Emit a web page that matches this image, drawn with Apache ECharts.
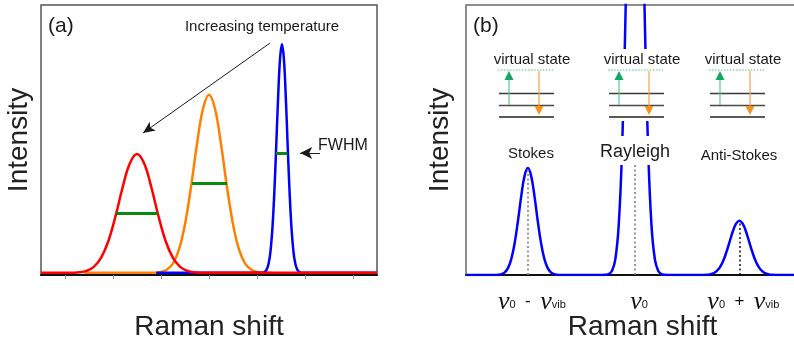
<!DOCTYPE html>
<html>
<head>
<meta charset="utf-8">
<script src="https://cdn.jsdelivr.net/npm/echarts@6/dist/echarts.min.js"></script>
<style>
  html, body { margin: 0; padding: 0; background: #fff; }
  #chart { width: 794px; height: 343px; }
</style>
</head>
<body>
<div id="chart"></div>
<script>
// ---------- Panel (a): one Raman band at three temperatures ----------
// [Raman shift (arb.), intensity (arb.)]
const redPeak = [[0,0],[0.6,0],[0.8,0.2],[0.95,0.75],[1.1,2.2],[1.25,5.5],[1.4,11.6],[1.55,20.8],[1.7,31.6],[1.85,40.5],[2.0,44],[2.15,40.5],[2.3,31.6],[2.45,20.8],[2.6,11.6],[2.75,5.5],[2.9,2.2],[3.05,0.75],[3.2,0.2],[3.4,0],[7,0]];
const orangePeak = [[0.9,0],[2.3,0],[2.5,0.36],[2.625,1.2],[2.75,3.5],[2.875,8.65],[3.0,18.0],[3.125,31.8],[3.25,47.7],[3.375,60.8],[3.5,66],[3.625,60.8],[3.75,47.7],[3.875,31.8],[4.0,18.0],[4.125,8.65],[4.25,3.5],[4.375,1.2],[4.5,0.36],[4.7,0],[4.8,0]];
const bluePeak = [[2.4,0],[4.6,0],[4.66,0.4],[4.7,1.2],[4.74,3.3],[4.78,7.8],[4.82,16.2],[4.86,29.4],[4.9,46.7],[4.94,65.0],[4.98,79.3],[5.02,84.7],[5.06,79.3],[5.1,65.0],[5.14,46.7],[5.18,29.4],[5.22,16.2],[5.26,7.8],[5.3,3.3],[5.34,1.2],[5.38,0.4],[5.44,0],[7,0]];
// full width at half maximum: [left, right, height]
const fwhmRed = [1.563, 2.431, 22.0];
const fwhmOrange = [3.146, 3.875, 33.1];
const fwhmBlue = [4.896, 5.131, 44.3];
const ticksA = [0.5, 1.5, 2.5, 3.5, 4.5, 5.5, 6.5];

// ---------- Panel (b): Stokes / Rayleigh / anti-Stokes ----------
const spectrumB = [[0,0],[8.8,0],[9.8,0.09],[10.8,0.32],[11.8,1.0],[12.8,2.65],[13.8,6.05],[14.8,11.9],[15.8,20.1],[16.8,29.3],[17.8,36.7],[18.8,39.6],[19.8,36.7],[20.8,29.3],[21.8,20.1],[22.8,11.9],[23.8,6.05],[24.8,2.65],[25.8,1.0],[26.8,0.32],[27.8,0.09],[28.8,0],
  [41.4,0],[42.4,0.06],[43.4,0.34],[44.4,1.58],[45.4,5.9],[46.4,18.1],[47.4,45.0],[48.4,91.5],[49.4,151.9],[50.4,206.0],[51.4,228],[52.4,206.0],[53.4,151.9],[54.4,91.5],[55.4,45.0],[56.4,18.1],[57.4,5.9],[58.4,1.58],[59.4,0.34],[60.4,0.06],[61.4,0],
  [71.1,0],[72.1,0.02],[73.1,0.08],[74.1,0.22],[75.1,0.57],[76.1,1.32],[77.1,2.72],[78.1,5.01],[79.1,8.26],[80.1,12.2],[81.1,16.1],[82.1,19.0],[83.1,20.1],[84.1,19.0],[85.1,16.1],[86.1,12.2],[87.1,8.26],[88.1,5.01],[89.1,2.72],[90.1,1.32],[91.1,0.57],[92.1,0.22],[93.1,0.08],[94.1,0.02],[95.1,0],[107.3,0]];
const peakCentersB = [18.8, 51.4, 83.1];
const guideTopsB = [39.6, 41, 20.1];
const peakNamesB = ['Stokes', 'Rayleigh', 'Anti-Stokes'];
const shiftLabelsB = ['{nu|ν}{sub|0}{op|  -  }{nu|ν}{sub|vib}', '{nu|ν}{sub|0}', '{nu|ν}{sub|0}{op|  +  }{nu|ν}{sub|vib}'];

const SANS = '"Liberation Sans", Arial, Helvetica, sans-serif';
const chart = echarts.init(document.getElementById('chart'), null, { renderer: 'canvas' });

function txt(text, x, y, size, align, extra) {
  return Object.assign({
    type: 'text', z: 120, x: x, y: y,
    style: { text: text, font: size + 'px ' + SANS, fill: '#1a1a1a', align: align || 'center', verticalAlign: 'middle' }
  }, extra || {});
}
function seg(x1, y1, x2, y2, color, width, dash) {
  return { type: 'line', z: 115, shape: { x1, y1, x2, y2 }, style: { stroke: color, lineWidth: width, lineDash: dash || null } };
}
function tri(points, color) {
  return { type: 'polygon', z: 116, shape: { points }, style: { fill: color } };
}
// energy-level sketch: virtual state, three vibrational levels, up/down transitions
function levelSketch(x0) {
  const els = [];
  els.push(txt('virtual state', x0 + 33, 60, 15));
  els.push(seg(x0 - 1, 70, x0 + 54, 70, '#8fd8ac', 1.5, [1.5, 1.5]));
  els.push(seg(x0, 93.5, x0 + 55, 93.5, '#3a3a3a', 1.5));
  els.push(seg(x0, 105.5, x0 + 55, 105.5, '#4a4a4a', 1.5));
  els.push(seg(x0, 117, x0 + 55, 117, '#222', 1.5));
  els.push(seg(x0 + 10, 105, x0 + 10, 79, '#55c98a', 1.2));
  els.push(tri([[x0 + 5.5, 80], [x0 + 14.5, 80], [x0 + 10, 71]], '#10a860'));
  els.push(seg(x0 + 40, 71, x0 + 40, 107, '#f6a04a', 1.2));
  els.push(tri([[x0 + 35.5, 106], [x0 + 44.5, 106], [x0 + 40, 115]], '#f5901a'));
  return els;
}

const graphics = [
  txt('(a)', 48, 26, 21, 'left'),
  txt('Increasing temperature', 262, 27, 15),
  txt('FWHM', 318, 146, 16, 'left'),
  txt('(b)', 473, 26, 21, 'left'),
  // white patch behind the central sketch hides the tall Rayleigh line
  { type: 'rect', z: 110, shape: { x: 603, y: 49, width: 68, height: 72 }, style: { fill: '#fff' } },
  { type: 'rect', z: 110, shape: { x: 598, y: 136, width: 76, height: 29 }, style: { fill: '#fff' } },
  txt(peakNamesB[0], 531, 154, 15),
  txt(peakNamesB[1], 635, 152, 18),
  txt(peakNamesB[2], 739, 156, 15)
].concat(levelSketch(499), levelSketch(609), levelSketch(710));

const guideLines = peakCentersB.map((c, i) => [
  { coord: [c, 0] }, { coord: [c, guideTopsB[i]], lineStyle: { color: i === 2 ? '#111' : '#777', width: 1.5, type: [2, 2.5] } }
]);

const arrowStyle = { color: '#1a1a1a', width: 1 };
const nameStyle = { fontSize: 28, fontFamily: SANS, color: '#222' };
const option = {
  animation: false,
  backgroundColor: '#fff',
  grid: [
    { left: 41, top: 5, width: 336, height: 270, show: true, borderColor: '#555', borderWidth: 1.5, outerBoundsMode: 'none', containLabel: false },
    { left: 466, top: 5, width: 353, height: 270, show: true, borderColor: '#6a6a6a', borderWidth: 1.5, outerBoundsMode: 'none', containLabel: false }
  ],
  xAxis: [
    { gridIndex: 0, type: 'value', min: 0, max: 7,
      axisLine: { show: true, onZero: false, lineStyle: { color: '#111', width: 2 } },
      axisTick: { show: true, customValues: ticksA, length: 4, lineStyle: { color: '#8a8a8a', width: 1 } },
      axisLabel: { show: false }, splitLine: { show: false },
      name: 'Raman shift', nameLocation: 'middle', nameGap: 38, nameMoveOverlap: false,
      nameTextStyle: nameStyle },
    { gridIndex: 1, type: 'value', min: 0, max: 107.3,
      axisLine: { show: true, onZero: false, lineStyle: { color: '#111', width: 2 } },
      axisTick: { show: false },
      axisLabel: { show: true, customValues: peakCentersB, margin: 14, padding: [0, 0, 0, 8],
        formatter: (v) => shiftLabelsB[peakCentersB.indexOf(v)] || '',
        rich: {
          nu: { fontFamily: '"Liberation Serif", "Times New Roman", serif', fontStyle: 'italic', fontSize: 26, color: '#111', verticalAlign: 'bottom' },
          sub: { fontFamily: SANS, fontSize: 11, color: '#111', verticalAlign: 'bottom', padding: [0, 0, 5, 0] },
          op: { fontFamily: SANS, fontSize: 17, color: '#111', verticalAlign: 'bottom', padding: [0, 0, 5, 0] }
        } },
      splitLine: { show: false },
      name: 'Raman shift', nameLocation: 'middle', nameGap: 38, nameMoveOverlap: false,
      nameTextStyle: nameStyle }
  ],
  yAxis: [
    { gridIndex: 0, type: 'value', min: -0.8, max: 99.2,
      axisLine: { show: false }, axisTick: { show: false }, axisLabel: { show: false }, splitLine: { show: false },
      name: 'Intensity', nameLocation: 'middle', nameGap: 8, nameMoveOverlap: false,
      nameTextStyle: nameStyle },
    { gridIndex: 1, type: 'value', min: 0, max: 100,
      axisLine: { show: false }, axisTick: { show: false }, axisLabel: { show: false }, splitLine: { show: false },
      name: 'Intensity', nameLocation: 'middle', nameGap: 12, nameMoveOverlap: false,
      nameTextStyle: nameStyle }
  ],
  series: [
    { type: 'line', xAxisIndex: 0, yAxisIndex: 0, z: 2, data: orangePeak, smooth: 0.4, showSymbol: false, symbol: 'none',
      lineStyle: { color: '#ff8000', width: 2.5 } },
    { type: 'line', xAxisIndex: 0, yAxisIndex: 0, z: 3, data: bluePeak, smooth: 0.4, showSymbol: false, symbol: 'none',
      lineStyle: { color: '#0000ff', width: 2.5 } },
    { type: 'line', xAxisIndex: 0, yAxisIndex: 0, z: 4, data: redPeak, smooth: 0.4, showSymbol: false, symbol: 'none',
      lineStyle: { color: '#ff0000', width: 2.5 },
      markLine: {
        silent: true, symbol: ['none', 'none'], label: { show: false },
        data: [
          [{ coord: [fwhmRed[0], fwhmRed[2]] }, { coord: [fwhmRed[1], fwhmRed[2]], lineStyle: { color: '#0a8a0a', width: 3, type: 'solid' } }],
          [{ coord: [fwhmOrange[0], fwhmOrange[2]] }, { coord: [fwhmOrange[1], fwhmOrange[2]], lineStyle: { color: '#0a8a0a', width: 3, type: 'solid' } }],
          [{ coord: [fwhmBlue[0], fwhmBlue[2]] }, { coord: [fwhmBlue[1], fwhmBlue[2]], lineStyle: { color: '#0a8a0a', width: 3, type: 'solid' } }],
          [{ coord: [4.77, 85.1], symbol: 'none' }, { coord: [2.125, 51.8], symbol: 'arrow', symbolSize: [8, 12], lineStyle: Object.assign({ type: 'solid' }, arrowStyle) }],
          [{ coord: [5.81, 44.4], symbol: 'none' }, { coord: [5.40, 44.4], symbol: 'arrow', symbolSize: [9, 12], lineStyle: Object.assign({ type: 'solid' }, arrowStyle) }]
        ]
      } },
    { type: 'line', xAxisIndex: 1, yAxisIndex: 1, z: 3, data: spectrumB, smooth: 0.4, showSymbol: false, symbol: 'none',
      lineStyle: { color: '#0000ff', width: 2.5 },
      markLine: { silent: true, symbol: ['none', 'none'], label: { show: false }, data: guideLines } }
  ],
  graphic: { elements: graphics }
};
chart.setOption(option);
</script>
</body>
</html>
